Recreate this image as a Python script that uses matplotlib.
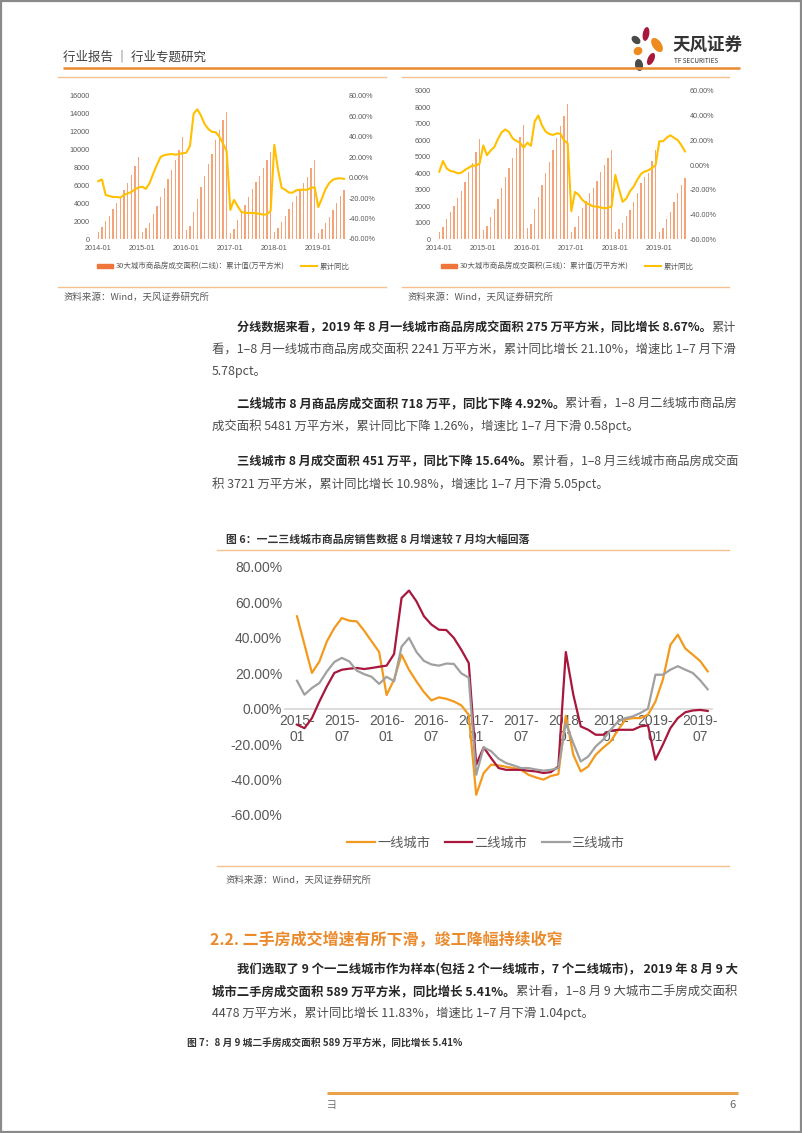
import matplotlib
matplotlib.use('Agg')
import matplotlib.pyplot as plt
from matplotlib.patches import Rectangle, Ellipse
from matplotlib.lines import Line2D
from matplotlib.patches import Patch

plt.rcParams['font.family'] = ['Noto Sans CJK SC', 'DejaVu Sans']

W, H = 802, 1133

# ---------------- data ----------------
main_ticks = ['2015-\n01', '2015-\n07', '2016-\n01', '2016-\n07', '2017-\n01', '2017-\n07',
              '2018-\n01', '2018-\n07', '2019-\n01', '2019-\n07']
tier1_yoy = [52.2, 36.2, 20.2, 26.7, 38.0, 45.6, 51.2, 49.7, 49.3, 44.0, 38.0, 32.0,
             7.7, 16.4, 30.5, 22.0, 15.4, 9.4, 4.7, 6.4, 5.6, 4.1, 1.9, -3.4,
             -48.6, -36.3, -31.6, -32.0, -32.8, -33.5, -34.5, -37.3, -38.8, -40.0, -38.0, -37.0,
             -4.0, -26.0, -35.4, -32.6, -26.0, -22.0, -18.5, -12.0, -6.0, -5.3, -5.3, -3.4,
             4.0, 16.4, 36.0, 41.8, 34.0, 30.5, 26.88, 21.10]
tier2_yoy = [-9.0, -11.0, -5.3, 4.1, 12.6, 20.2, 22.0, 22.6, 23.0, 22.4, 23.0, 23.7,
             24.3, 30.9, 62.5, 66.7, 60.6, 52.2, 47.5, 44.6, 44.4, 40.0, 33.3, 25.8,
             -31.6, -21.8, -27.9, -33.5, -34.5, -34.5, -34.5, -35.0, -35.4, -36.3, -35.8, -32.6,
             32.0, 8.0, -10.0, -11.9, -14.7, -14.7, -12.4, -11.9, -11.9, -11.9, -10.0, -9.4,
             -28.8, -20.3, -11.0, -5.3, -2.0, -1.0, -0.68, -1.26]
tier3_yoy = [15.8, 7.9, 11.7, 14.5, 21.0, 26.4, 28.7, 26.7, 21.5, 19.5, 18.0, 14.0,
             18.0, 15.5, 35.0, 40.0, 32.0, 27.0, 25.0, 24.3, 25.5, 25.3, 20.0, 17.5,
             -37.3, -21.8, -24.0, -28.2, -30.7, -32.0, -33.5, -33.5, -34.3, -35.0, -34.5, -33.5,
             -8.0, -19.4, -29.8, -27.0, -21.3, -17.5, -11.9, -7.2, -5.3, -4.3, -2.4, 0.0,
             19.2, 19.2, 22.0, 24.0, 22.0, 20.2, 16.03, 10.98]
legend_main = ['一线城市', '二线城市', '三线城市']

small_ticks = ['2014-01', '2015-01', '2016-01', '2017-01', '2018-01', '2019-01']
t2_cum_2014 = [800, 1350, 2000, 2600, 3350, 4000, 4700, 5450, 6200, 7150, 8150, 9200]
t2_cum_2015 = [750, 1200, 1800, 2750, 3700, 4700, 5650, 6650, 7700, 8800, 9900, 11350]
t2_cum_2016 = [1000, 1500, 3000, 4500, 5850, 7000, 8350, 9500, 11050, 12200, 13300, 14200]
t2_cum_2017 = [700, 1100, 2100, 2950, 3850, 4700, 5550, 6400, 7050, 7900, 8800, 9700]
t2_cum_2018 = [800, 1250, 1950, 2600, 3400, 4100, 4800, 5550, 6300, 6950, 7900, 8800]
t2_cum_2019 = [700, 1100, 1750, 2500, 3250, 4000, 4763, 5481]
t2_yoy_2014 = [-3.5, -1.8, -17.0, -18.0, -19.0, -19.0, -19.5, -17.0, -15.5, -14.0, -11.5, -9.6]

t3_cum_2014 = [460, 770, 1230, 1630, 2040, 2480, 2930, 3490, 4060, 4600, 5270, 6070]
t3_cum_2015 = [560, 810, 1370, 1820, 2440, 3130, 3790, 4340, 4940, 5550, 6180, 6920]
t3_cum_2016 = [670, 910, 1840, 2580, 3290, 4000, 4660, 5410, 6110, 6880, 7490, 8170]
t3_cum_2017 = [460, 730, 1430, 1880, 2320, 2790, 3090, 3530, 4060, 4500, 4940, 5410]
t3_cum_2018 = [420, 630, 970, 1430, 1780, 2280, 2790, 3390, 3790, 4040, 4740, 5410]
t3_cum_2019 = [460, 710, 1230, 1680, 2280, 2800, 3270, 3721]
t3_yoy_2014 = [-5.4, 3.2, -2.7, -4.8, -5.4, -6.7, -6.2, -4.0, -2.2, -0.5, -0.5, 1.3]

# ---------------- figure & page overlay ----------------
fig = plt.figure(figsize=(W / 100, H / 100), dpi=100)
page = fig.add_axes([0, 0, 1, 1])
page.set_xlim(0, W)
page.set_ylim(H, 0)
page.axis('off')

def px_axes(x0, y0, x1, y1):
    return fig.add_axes([x0 / W, 1 - y1 / H, (x1 - x0) / W, (y1 - y0) / H])

ORANGE = '#E98A2F'
LIGHT_OR = '#F6C08F'
GRAY_TXT = '#595959'

page.add_patch(Rectangle((0.8, 0.8), W - 1.6, H - 1.6, fill=False, ec='#8a8a8a', lw=1.6))

# header
page.text(63, 57, '行业报告 ｜ 行业专题研究', fontsize=9, color='#404040', va='center')
page.plot([63, 740], [68, 68], color=ORANGE, lw=1.8, solid_capstyle='butt')

# logo
petals = [((646, 34), 6.5, 14, 10, '#A8173C'), ((657, 45), 9, 16, -35, '#EE8A1E'),
          ((636, 40), 7, 10, -50, '#4A4A4A'), ((638, 51), 8, 9, 60, '#EE8A1E'),
          ((651, 59), 6.5, 13, 25, '#A8173C'), ((639, 65), 8, 12, -10, '#4A4A4A')]
for c, w_, h_, ang, col in petals:
    page.add_patch(Ellipse(c, w_, h_, angle=ang, color=col, lw=0))
page.text(672, 46, '天风证券', fontsize=12.6, color='#333333', va='center', fontweight='bold')
page.text(674, 61, 'TF SECURITIES', fontsize=4.6, color='#333333', va='center')

# chart boxes lines
for xa, xb in [(58, 386), (402, 729)]:
    page.plot([xa, xb], [77, 77], color=LIGHT_OR, lw=1)
    page.plot([xa, xb], [287, 287], color=LIGHT_OR, lw=1)
page.text(63, 297, '资料来源：Wind，天风证券研究所', fontsize=6.8, color=GRAY_TXT, va='center')
page.text(407, 297, '资料来源：Wind，天风证券研究所', fontsize=6.8, color=GRAY_TXT, va='center')

# ---------------- small charts ----------------
def small_chart(x_first, step, ytop, ybot, cum, yoy, ymax, yr, ylabels_l, ylabels_r, name, legx):
    n = len(cum)
    x0 = x_first - 0.5 * step
    x1 = x_first + (n - 0.5) * step
    ax = px_axes(x0, ytop, x1, ybot)
    ax.patch.set_alpha(0)
    idx = list(range(n))
    ax.bar(idx, cum, width=0.4, color='#F5A47A', lw=0, zorder=2)
    ax.set_xlim(-0.5, n - 0.5)
    ax.set_ylim(0, ymax)
    ax.set_yticks(ylabels_l)
    ax.set_yticklabels([str(v) for v in ylabels_l])
    ax.set_xticks(list(range(0, n, 12)))
    ax.set_xticklabels(small_ticks)
    for s in ax.spines.values():
        s.set_visible(False)
    ax.tick_params(length=0, labelsize=5.2, labelcolor=GRAY_TXT, pad=4)
    ax.tick_params(axis='y', pad=5)
    for lab in ax.get_xticklabels() + ax.get_yticklabels():
        lab.set_family(['Liberation Sans', 'DejaVu Sans'])
    ax2 = ax.twinx()
    ax2.plot(idx, yoy, color='#FFC000', lw=1.5, zorder=3)
    ax2.set_ylim(yr[0], yr[1])
    ax2.set_yticks(ylabels_r)
    ax2.set_yticklabels(['%.2f%%' % v for v in ylabels_r])
    for s in ax2.spines.values():
        s.set_visible(False)
    ax2.tick_params(length=0, labelsize=5.2, labelcolor=GRAY_TXT, pad=2)
    for lab in ax2.get_yticklabels():
        lab.set_family(['Liberation Sans', 'DejaVu Sans'])
    fig.legend([Patch(color='#F0753A'), Line2D([], [], color='#FFC000', lw=1.5)],
               [name, '累计同比'], loc='center', ncol=2,
               bbox_to_anchor=(legx / W, 1 - 266.5 / H), frameon=False, fontsize=5.4,
               handlelength=2.2, handleheight=0.55, handletextpad=0.3, columnspacing=2.2,
               labelcolor=GRAY_TXT)

t2_cum = t2_cum_2014 + t2_cum_2015 + t2_cum_2016 + t2_cum_2017 + t2_cum_2018 + t2_cum_2019
t2_yoy = t2_yoy_2014 + tier2_yoy
t3_cum = t3_cum_2014 + t3_cum_2015 + t3_cum_2016 + t3_cum_2017 + t3_cum_2018 + t3_cum_2019
t3_yoy = t3_yoy_2014 + tier3_yoy

small_chart(98.3, 3.667, 95.7, 239.0, t2_cum, t2_yoy, 16000, (-60, 80),
            list(range(0, 16001, 2000)), [80, 60, 40, 20, 0, -20, -40, -60],
            '30大城市商品房成交面积(二线)：累计值(万平方米)', 223)
small_chart(439.3, 3.667, 90.7, 239.3, t3_cum, t3_yoy, 9000, (-60, 60),
            list(range(0, 9001, 1000)), [60, 40, 20, 0, -20, -40, -60],
            '30大城市商品房成交面积(三线)：累计值(万平方米)', 567)

# ---------------- body text ----------------
renderer = fig.canvas.get_renderer()
BOLD_C = '#262626'
NORM_C = '#4d4d4d'
BODY = 8.9
RIGHT = 738

def rich(x, y, parts, justify=False, size=BODY):
    if justify:
        w = 0
        for s, bold, col in parts:
            t = page.text(0, 0, s, fontsize=size, fontweight='bold' if bold else 'normal')
            w += t.get_window_extent(renderer).width
            t.remove()
        f = (RIGHT - x) / w
        size = size * max(0.94, min(1.06, f))
    for s, bold, col in parts:
        t = page.text(x, y, s, fontsize=size, fontweight='bold' if bold else 'normal',
                      color=col, va='center', ha='left')
        x = t.get_window_extent(renderer).x1

rich(237, 328, [('分线数据来看，2019 年 8 月一线城市商品房成交面积 275 万平方米，同比增长 8.67%。', True, BOLD_C),
                ('累计', False, NORM_C)], True)
rich(212, 350, [('看，1–8 月一线城市商品房成交面积 2241 万平方米，累计同比增长 21.10%，增速比 1–7 月下滑', False, NORM_C)], True)
rich(212, 371, [('5.78pct。', False, NORM_C)])
rich(237, 404, [('二线城市 8 月商品房成交面积 718 万平，同比下降 4.92%。', True, BOLD_C),
                ('累计看，1–8 月二线城市商品房', False, NORM_C)], True)
rich(212, 426, [('成交面积 5481 万平方米，累计同比下降 1.26%，增速比 1–7 月下滑 0.58pct。', False, NORM_C)])
rich(237, 462, [('三线城市 8 月成交面积 451 万平，同比下降 15.64%。', True, BOLD_C),
                ('累计看，1–8 月三线城市商品房成交面', False, NORM_C)], True)
rich(212, 484, [('积 3721 万平方米，累计同比增长 10.98%，增速比 1–7 月下滑 5.05pct。', False, NORM_C)])

# figure 6 title & frame
page.text(226, 539, '图 6：一二三线城市商品房销售数据 8 月增速较 7 月均大幅回落', fontsize=7.8,
          color='#333333', va='center', fontweight='bold')
page.plot([217, 729], [550, 550], color=LIGHT_OR, lw=1)
page.plot([217, 729], [866, 866], color=LIGHT_OR, lw=1)
page.text(226, 880, '资料来源：Wind，天风证券研究所', fontsize=6.8, color=GRAY_TXT, va='center')

# ---------------- main chart ----------------
x_first, step = 297.0, 7.467
n = len(tier1_yoy)
ax = px_axes(285, 567, 712, 815)
ax.patch.set_alpha(0)
idx = list(range(n))
ax.plot(idx, tier1_yoy, color='#F39A1E', lw=1.6, zorder=3, label=legend_main[0])
ax.plot(idx, tier2_yoy, color='#A8173C', lw=1.6, zorder=3, label=legend_main[1])
ax.plot(idx, tier3_yoy, color='#A0A0A0', lw=1.6, zorder=3, label=legend_main[2])
ax.set_xlim((285 - x_first) / step, (712 - x_first) / step)
ax.set_ylim(-60, 80)
ax.set_yticks([80, 60, 40, 20, 0, -20, -40, -60])
ax.set_yticklabels(['%.2f%%' % v for v in [80, 60, 40, 20, 0, -20, -40, -60]])
ax.set_xticks(list(range(0, n, 6)))
ax.set_xticklabels(main_ticks, linespacing=1.15)
for k in ['top', 'right', 'left']:
    ax.spines[k].set_visible(False)
ax.spines['bottom'].set_position(('data', 0))
ax.spines['bottom'].set_color('#D9D9D9')
ax.spines['bottom'].set_linewidth(1.3)
ax.spines['bottom'].set_zorder(1)
ax.tick_params(length=0, labelsize=10, labelcolor=GRAY_TXT)
ax.tick_params(axis='y', pad=2)
ax.tick_params(axis='x', pad=4)
for lab in ax.get_xticklabels() + ax.get_yticklabels():
    lab.set_family(['Liberation Sans', 'DejaVu Sans'])
fig.legend(loc='center', ncol=3, bbox_to_anchor=(486 / W, 1 - 843 / H), frameon=False,
           fontsize=9.5, handlelength=2.1, handletextpad=0.15, columnspacing=1.1,
           labelcolor=GRAY_TXT)

# ---------------- section 2.2 ----------------
page.text(210, 940, '2.2. 二手房成交增速有所下滑，竣工降幅持续收窄', fontsize=11.5,
          color='#EB8A2C', va='center', fontweight='bold')
rich(237, 970, [('我们选取了 9 个一二线城市作为样本(包括 2 个一线城市，7 个二线城市)， 2019 年 8 月 9 大', True, BOLD_C)], True)
rich(212, 992, [('城市二手房成交面积 589 万平方米，同比增长 5.41%。', True, BOLD_C),
                ('累计看，1–8 月 9 大城市二手房成交面积', False, NORM_C)], True)
rich(212, 1013, [('4478 万平方米，累计同比增长 11.83%，增速比 1–7 月下滑 1.04pct。', False, NORM_C)])
page.text(187, 1043, '图 7：8 月 9 城二手房成交面积 589 万平方米，同比增长 5.41%', fontsize=7,
          color='#333333', va='center', fontweight='bold')

# footer
page.plot([327, 738], [1093, 1093], color='#E9A24A', lw=2.2, solid_capstyle='butt')
page.text(327, 1105, '彐', fontsize=7, color='#666666', va='center')
page.text(733, 1105, '6', fontsize=8, color='#666666', va='center', ha='center')

fig.savefig('out.png', dpi=100)
